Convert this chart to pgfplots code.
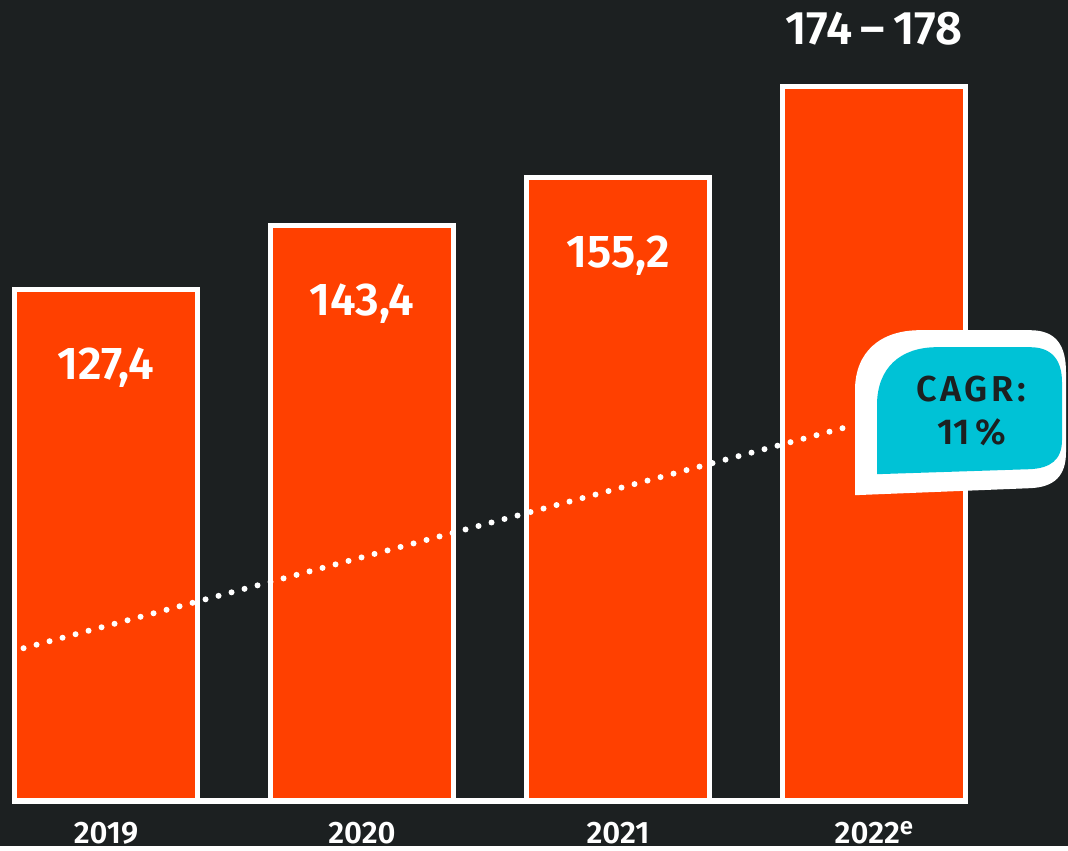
\documentclass[border=0pt]{standalone}
\usepackage{pgfplots}
\pgfplotsset{compat=1.18}
\usepackage{pgfplotstable}
\usepackage{fontspec}
\setmainfont{Fira Sans}[BoldFont={Fira Sans SemiBold}]
\newfontfamily\spaced[LetterSpace=10, BoldFont={Fira Sans SemiBold}]{Fira Sans}
\definecolor{bg}{RGB}{28,32,33}
\definecolor{barc}{RGB}{255,64,0}
\definecolor{cyanc}{RGB}{0,194,214}
\pgfplotstableread{
x y lab
0 127.4 {127,4}
1 143.4 {143,4}
2 155.2 {155,2}
}\datA
\begin{document}
\begin{tikzpicture}
\begin{axis}[
  scale only axis, width=534pt, height=423pt,
  xmin=-0.414, xmax=3.758, ymin=-11.34, ymax=199.5,
  axis background/.style={fill=bg},
  axis line style={draw=none},
  major tick length=0pt,
  ytick=\empty,
  xtick={0,1,2,3},
  xticklabels={2019,2020,2021,{2022\raisebox{4.5pt}{\fontsize{12}{12}\selectfont e}}},
  xticklabel style={anchor=base, yshift=1.5pt, font=\fontsize{15.5}{15.5}\selectfont\bfseries, text=white},
  ybar, bar width=0.715, bar shift=0pt,
  clip=false,
]
\draw[white, line width=3pt] (axis cs:-0.367,0) -- (axis cs:3.367,0);
\addplot[fill=barc, draw=white, line width=2.5pt, point meta=explicit symbolic,
  nodes near coords,
  every node near coord/.append style={anchor=center, yshift=-39pt, text=white, font=\fontsize{23}{23}\selectfont\bfseries}]
  table[x=x, y=y, meta=lab]{\datA};
\addplot[fill=barc, draw=white, line width=2.5pt,
  nodes near coords={174\,–\,178},
  every node near coord/.append style={anchor=center, yshift=28.7pt, text=white, font=\fontsize{23.5}{23.5}\selectfont\bfseries}]
  coordinates {(3,178)};
\addplot[sharp plot, no marks, white, line width=3pt, line cap=round, dash pattern=on 0pt off 6.73pt]
  coordinates {(-0.322,38.0) (2.893,93.1)};
\end{axis}
\begin{scope}[x=0.5pt, y=-0.5pt, yshift=423pt]
\fill[white] (855,495) -- (855,390) .. controls (855,352) and (880,330) .. (920,330) -- (1030,330) .. controls (1056,330) and (1066,345) .. (1066,372) -- (1066,452) .. controls (1066,476) and (1054,487) .. (1030,488) -- cycle;
\fill[cyanc] (877,474) -- (877,405) .. controls (877,368) and (900,347) .. (937,347) -- (1030,347) .. controls (1052,347) and (1062,360) .. (1062,382) -- (1062,440) .. controls (1062,460) and (1050,468) .. (1030,469) -- cycle;
\node[text=bg, font=\fontsize{18}{18}\selectfont\bfseries] at (971,389) {\spaced\bfseries CAGR:};
\node[text=bg, font=\fontsize{18}{18}\selectfont\bfseries] at (972,432) {11\,\%};
\end{scope}
\end{tikzpicture}
\end{document}
